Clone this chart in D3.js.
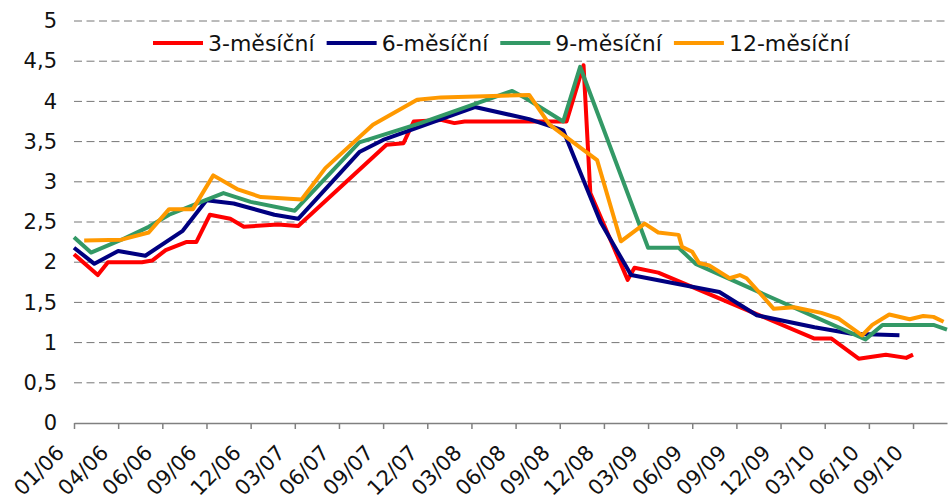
<!DOCTYPE html>
<html>
<head>
<meta charset="utf-8">
<script src="https://cdn.jsdelivr.net/npm/d3@7"></script>
<style>
body { margin: 0; background: #fff; }
svg { display: block; font-family: "DejaVu Sans", Verdana, sans-serif; }
</style>
</head>
<body>
<svg id="chart" width="948" height="500"></svg>
<script>
// x = tyden od zacatku 2006, y = sazba v %
var seriesNames = ['3-měsíční', '6-měsíční', '9-měsíční', '12-měsíční'];

var rate3m = [[0,2.10],[7,1.84],[10,2.00],[20,2.00],[23,2.02],[27,2.15],[33,2.25],[36,2.25],
	[40,2.59],[46,2.54],[50,2.44],[60,2.47],[66,2.45],[92,3.46],[97,3.48],[100,3.75],[108,3.77],
	[112,3.73],[115,3.75],[145,3.75],[150,4.45],[152,2.86],[163,1.78],[165,1.93],[172,1.87],
	[218,1.05],[223,1.05],[231,0.80],[239,0.85],[245,0.81],[247,0.85]];

var rate6m = [[0,2.18],[6,1.98],[13,2.14],[21,2.08],[32,2.39],[39,2.77],[47,2.73],[59,2.59],
	[66,2.54],[84,3.37],[91,3.52],[118,3.93],[134,3.78],[144,3.64],[155,2.50],[164,1.84],
	[190,1.63],[201,1.34],[218,1.19],[229,1.11],[243,1.09]];

var rate9m = [[0,2.31],[5,2.12],[14,2.28],[22,2.44],[28,2.59],[38,2.76],[44,2.86],[52,2.75],
	[65,2.64],[84,3.49],[102,3.73],[129,4.13],[133,4.04],[144,3.75],[149,4.43],[169,2.18],
	[178,2.18],[183,1.98],[233,1.04],[238,1.22],[253,1.22],[257,1.16]];

var rate12m = [[3,2.27],[14,2.28],[22,2.37],[28,2.66],[35,2.66],[41,3.08],[48,2.91],[55,2.81],
	[67,2.78],[74,3.17],[88,3.71],[101,4.02],[108,4.05],[134,4.08],[140,3.71],[154,3.27],
	[161,2.26],[168,2.48],[172,2.37],[178,2.34],[179,2.19],[182,2.13],[184,1.99],[187,1.96],
	[193,1.80],[196,1.84],[198,1.80],[206,1.42],[212,1.44],[220,1.37],[225,1.30],[232,1.09],
	[235,1.22],[240,1.35],[246,1.29],[250,1.33],[253,1.32],[256,1.26]];

var tickLabels = ['01/06','04/06','06/06','09/06','12/06','03/07','06/07','09/07','12/07','03/08',
	'06/08','09/08','12/08','03/09','06/09','09/09','12/09','03/10','06/10','09/10'];
var weeksPerTick = 13;
var lastWeek = 257;
var yTicks = [0, 0.5, 1, 1.5, 2, 2.5, 3, 3.5, 4, 4.5, 5];

var allSeries = [rate3m, rate6m, rate9m, rate12m];
var colors = ['#ff0000', '#000080', '#339966', '#ff9900'];

var width = 948;
var height = 500;
var margin = {top: 21, right: 1, bottom: 77, left: 74};

var svg = d3.select('#chart');

var x = d3.scaleLinear()
	.domain([0, lastWeek])
	.range([margin.left, width - margin.right]);

var y = d3.scaleLinear()
	.domain([0, 5])
	.range([height - margin.bottom, margin.top]);

var cz = d3.formatLocale({decimal: ',', thousands: ' ', grouping: [3], currency: ['', ' Kč']});

// mrizka
svg.append('g')
	.selectAll('line')
	.data(yTicks.filter(function(d){ return d > 0; }))
	.enter()
	.append('line')
	.attr('x1', x(0))
	.attr('x2', x(lastWeek))
	.attr('y1', function(d){ return y(d); })
	.attr('y2', function(d){ return y(d); })
	.attr('stroke', '#777')
	.attr('stroke-width', 1)
	.attr('stroke-dasharray', '8,4.5');

var yAxis = svg.append('g')
	.attr('transform', 'translate(' + margin.left + ',0)')
	.call(d3.axisLeft(y).tickValues(yTicks).tickSize(0).tickPadding(17).tickFormat(cz.format('~g')));
yAxis.select('.domain').remove();
yAxis.selectAll('text')
	.style('font-size', '21px')
	.style('font-family', '"DejaVu Sans", Verdana, sans-serif')
	.attr('fill', '#111');

var xAxis = svg.append('g')
	.attr('transform', 'translate(0,' + y(0) + ')')
	.call(d3.axisBottom(x)
		.tickValues(tickLabels.map(function(d, i){ return i * weeksPerTick; }))
		.tickFormat(function(d, i){ return tickLabels[i]; })
		.tickSize(6)
		.tickSizeOuter(0));
xAxis.select('.domain').attr('stroke', '#808080').attr('stroke-width', 1.6);
xAxis.selectAll('.tick line').attr('stroke', '#808080').attr('stroke-width', 1.5);
xAxis.selectAll('text')
	.attr('x', 0)
	.attr('y', 0)
	.attr('dy', 0)
	.attr('transform', 'translate(-9,31) rotate(-45)')
	.style('text-anchor', 'end')
	.style('font-size', '21px')
	.style('font-family', '"DejaVu Sans", Verdana, sans-serif')
	.attr('fill', '#111');

var line = d3.line()
	.x(function(d){ return x(d[0]); })
	.y(function(d){ return y(d[1]); });

svg.append('g')
	.selectAll('path')
	.data(allSeries)
	.enter()
	.append('path')
	.attr('d', line)
	.attr('fill', 'none')
	.attr('stroke', function(d, i){ return colors[i]; })
	.attr('stroke-width', 4)
	.attr('stroke-linejoin', 'round');

// legenda
var legendX = 153;
var legendY = 43;
var legendLine = 50;
seriesNames.forEach(function(name, i){
	var g = svg.append('g').attr('transform', 'translate(' + legendX + ',' + legendY + ')');
	g.append('line')
		.attr('x1', 0)
		.attr('x2', legendLine)
		.attr('stroke', colors[i])
		.attr('stroke-width', 4);
	var t = g.append('text')
		.attr('x', legendLine + 5)
		.attr('dy', '0.35em')
		.style('font-size', '22px')
		.attr('fill', '#111')
		.text(name);
	legendX += legendLine + 5 + t.node().getComputedTextLength() + 12;
});
</script>
</body>
</html>
